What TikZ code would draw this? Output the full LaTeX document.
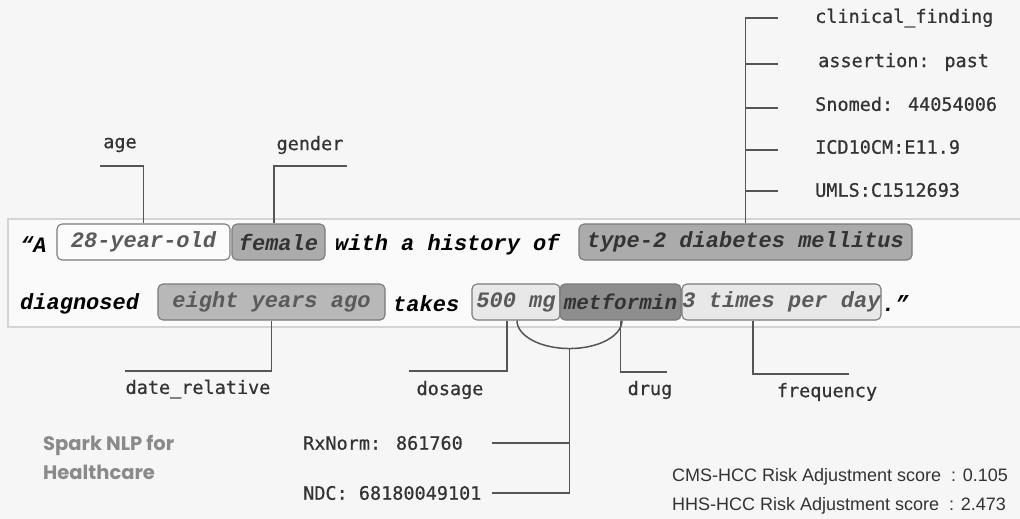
\documentclass[tikz,border=0pt]{standalone}
\usepackage{fontspec}
\setmainfont{Liberation Sans}
\newfontfamily\sent{Liberation Mono}
\newfontfamily\lab[FakeBold=0.6]{DejaVu Sans Mono}
\newfontfamily\brand{Poppins}
\newcommand{\us}{{\char"5F}}
\definecolor{bgc}{HTML}{F6F6F6}
\definecolor{panelfill}{HTML}{FAFAFA}
\definecolor{panelline}{HTML}{D4D4D4}
\definecolor{boxline}{HTML}{7A7A7A}
\definecolor{enttext}{HTML}{5A5A5A}
\definecolor{connc}{HTML}{555555}
\definecolor{labc}{HTML}{333333}
\definecolor{fwhite}{HTML}{FBFBFB}
\definecolor{fgray}{HTML}{ABABAB}
\definecolor{fmid}{HTML}{B8B8B8}
\definecolor{flight}{HTML}{E8E8E8}
\definecolor{fdark}{HTML}{8E8E8E}
\definecolor{brandc}{HTML}{8A8A8A}
\begin{document}
\begin{tikzpicture}[x=1pt,y=-1pt,
  ent/.style={draw=boxline, line width=1.1pt, rounded corners=5pt, minimum height=36pt, inner sep=0pt,
    font=\sent\bfseries\itshape\fontsize{22}{22}\selectfont, text=enttext},
  entb/.style={ent, text=labc},
  plain/.style={inner sep=0pt, font=\sent\bfseries\itshape\fontsize{22}{22}\selectfont, text=black},
  lbl/.style={inner sep=0pt, font=\lab\fontsize{18.5}{18.5}\selectfont, text=labc},
  conn/.style={draw=connc, line width=1.5pt},
  brandt/.style={inner sep=0pt, anchor=west, font=\brand\bfseries\fontsize{19.5}{19.5}\selectfont, text=brandc},
  score/.style={inner sep=0pt, anchor=west, font=\fontsize{18}{18}\selectfont, text=labc}]
\fill[bgc] (0,0) rectangle (1020,519);
\useasboundingbox (0,0) rectangle (1020,519);
% panel
\fill[panelfill] (8,219) rectangle (1020,327);
\draw[panelline, line width=1.2pt] (1020,219) -- (8,219) -- (8,327) -- (1020,327);

% sentence line 1
\node[plain, anchor=west] (q1) at (20,245) {“A};
\node[ent, fill=fwhite, minimum width=173pt] (b1) at (143.5,242) {28-year-old};
\node[entb, fill=fgray, minimum width=93pt] (b2) at (278.5,242) {female};
\node[plain, anchor=west] (t1) at (335,245) {with a history of};
\node[entb, fill=fgray, minimum width=333pt] (b3) at (745.5,242) {type-2 diabetes mellitus};
% sentence line 2
\node[plain, anchor=west] (t2) at (20,304) {diagnosed};
\node[ent, fill=fmid, minimum width=227pt] (b4) at (271.5,302) {eight years ago};
\node[plain, anchor=west] (t3) at (393,304) {takes};
\node[ent, fill=flight, minimum width=88pt] (b5) at (516,302) {500 mg};
\node[entb, fill=fdark, minimum width=121pt, font=\sent\bfseries\itshape\fontsize{21}{21}\selectfont] (b6) at (620.5,302) {metformin};
\node[ent, fill=flight, minimum width=199pt] (b7) at (781.5,302) {3 times per day};
\node[plain, anchor=west] (t4) at (882,304) {.”};

% top labels
\node[lbl] (lage) at (120,145) {age};
\node[lbl] (lgen) at (310,145) {gender};
\node[lbl, anchor=west] (lc1) at (815,18) {clinical\us finding};
\node[lbl, anchor=west] (lc2) at (818,62) {assertion: past};
\node[lbl, anchor=west] (lc3) at (815,104) {Snomed: 44054006};
\node[lbl, anchor=west] (lc4) at (815,147) {ICD10CM:E11.9};
\node[lbl, anchor=west] (lc5) at (815,190) {UMLS:C1512693};
% bottom labels
\node[lbl] (ldr) at (198,389) {date\us relative};
\node[lbl] (ldos) at (450,390) {dosage};
\node[lbl] (ldrug) at (650,390) {drug};
\node[lbl] (lfreq) at (827,392) {frequency};
\node[lbl, anchor=west] (lrx) at (303,443) {RxNorm: 861760};
\node[lbl, anchor=west] (lndc) at (303,493) {NDC: 68180049101};

\node[brandt] (br1) at (43,445) {Spark NLP for};
\node[brandt] (br2) at (43,472) {Healthcare};
\node[score] (s1) at (672,477) {CMS-HCC Risk Adjustment score\ \ : 0.105};
\node[score] (s2) at (672,506) {HHS-HCC Risk Adjustment score\ \ : 2.473};

% connectors
\coordinate (ageL) at (100,166);
\draw[conn] (ageL) -| (b1.north);
\coordinate (genX) at (274,0);
\coordinate (genR) at (347,166);
\draw[conn] (genR) -| (genX |- b2.north);
\coordinate (k1) at (778,18);
\coordinate (k2) at (778,64);
\coordinate (k3) at (778,108);
\coordinate (k4) at (778,150);
\coordinate (k5) at (778,191);
\draw[conn] (b3.north) |- (k1);
\draw[conn] (b3.north |- k2) -- (k2);
\draw[conn] (b3.north |- k3) -- (k3);
\draw[conn] (b3.north |- k4) -- (k4);
\draw[conn] (b3.north |- k5) -- (k5);

\coordinate (drL) at (125,371);
\draw[conn] (b4.south) |- (drL);
\coordinate (dosX) at (507,0);
\coordinate (dsL) at (409,371);
\draw[conn] (dosX |- b5.south) |- (dsL);
\coordinate (dgR) at (667,372);
\draw[conn] (b6.south) |- (dgR);
\coordinate (frX) at (753,0);
\coordinate (frR) at (849,374);
\draw[conn] (frX |- b7.south) |- (frR);

\coordinate (arcX) at (517,0);
\draw[conn] (arcX |- b5.south) arc[start angle=180, end angle=0, x radius=52.5, y radius=28];
\coordinate (arcB) at (569.5,348);
\coordinate (rxR) at (492,443);
\coordinate (ndcR) at (492,493);
\draw[conn] (arcB) |- (rxR);
\draw[conn] (arcB) |- (ndcR);
\end{tikzpicture}
\end{document}
